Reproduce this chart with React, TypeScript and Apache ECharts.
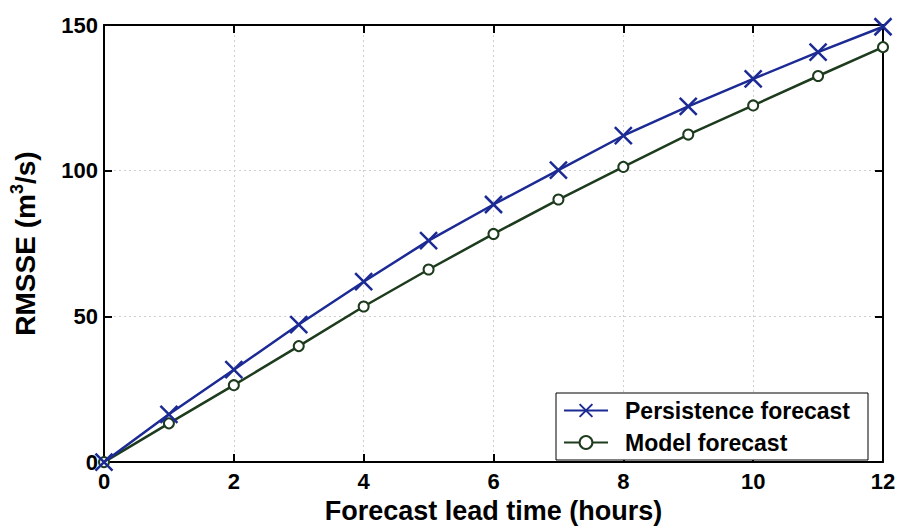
import React, { useEffect, useRef } from "react";
import * as echarts from "echarts";

const hours = [0, 1, 2, 3, 4, 5, 6, 7, 8, 9, 10, 11, 12];
const persistence = [0, 16.4, 31.7, 47.2, 61.9, 76.0, 88.4, 100.2, 112.0, 122.1, 131.5, 140.7, 149.4];
const model = [0, 13.3, 26.4, 39.8, 53.4, 66.1, 78.3, 90.1, 101.3, 112.4, 122.4, 132.5, 142.4];
const seriesNames = ["Persistence forecast", "Model forecast"];
const xLabel = "Forecast lead time (hours)";

const BLUE = "#1c2a94";
const GREEN = "#1d3b1d";
const FONT = "'Liberation Sans', Arial, sans-serif";

export default function App() {
  const ref = useRef<HTMLDivElement>(null);
  useEffect(() => {
    if (!ref.current) return;
    const chart = echarts.init(ref.current, undefined, { renderer: "svg" });
    const tickLabel = { fontFamily: FONT, fontWeight: "bold" as const, fontSize: 22, color: "#000" };
    const axisBase = {
      type: "value" as const,
      axisLine: { show: true, onZero: false, lineStyle: { color: "#000", width: 2 } },
      axisTick: { show: true, inside: true, length: 8, lineStyle: { color: "#000", width: 2 } },
    };
    chart.setOption({
      animation: false,
      backgroundColor: "#fff",
      grid: { left: 103, right: 18, top: 25, bottom: 60, containLabel: false },
      legend: {
        orient: "vertical",
        left: 556,
        top: 393,
        data: seriesNames,
        backgroundColor: "#fff",
        borderColor: "#000",
        borderWidth: 1,
        borderRadius: 0,
        padding: [6, 18, 6, 7],
        itemGap: 9,
        itemWidth: 44,
        itemHeight: 16,
        textStyle: { fontFamily: FONT, fontWeight: "bold", fontSize: 23, color: "#000", padding: [0, 0, 0, 12] },
      },
      xAxis: [
        {
          ...axisBase,
          min: 0,
          max: 12,
          interval: 2,
          position: "bottom",
          name: xLabel,
          nameLocation: "middle",
          nameGap: 27,
          nameTextStyle: { fontFamily: FONT, fontWeight: "bold", fontSize: 27, color: "#000", verticalAlign: "top" },
          axisLabel: { ...tickLabel, margin: 8 },
          splitLine: { show: true, lineStyle: { color: "#cfcfcf", type: [2, 3], width: 1 } },
        },
        {
          ...axisBase,
          min: 0,
          max: 12,
          interval: 2,
          position: "top",
          axisLabel: { show: false },
          splitLine: { show: false },
        },
      ],
      yAxis: [
        {
          ...axisBase,
          min: 0,
          max: 150,
          interval: 50,
          position: "left",
          name: "{a|RMSSE (m}{b|3}{a|/s)}",
          nameLocation: "middle",
          nameGap: 62,
          nameTextStyle: {
            rich: {
              a: { fontFamily: FONT, fontWeight: "bold", fontSize: 28, color: "#000" },
              b: { fontFamily: FONT, fontWeight: "bold", fontSize: 18, color: "#000", padding: [0, 0, 16, 0] },
            },
          },
          axisLabel: { ...tickLabel, margin: 6 },
          splitLine: { show: true, lineStyle: { color: "#cfcfcf", type: [2, 3], width: 1 } },
        },
        {
          ...axisBase,
          min: 0,
          max: 150,
          interval: 50,
          position: "right",
          axisLabel: { show: false },
          splitLine: { show: false },
        },
      ],
      series: [
        {
          name: seriesNames[0],
          type: "line",
          data: hours.map((h, i) => [h, persistence[i]]),
          symbol: "path://M0,0L10,10M0,10L10,0",
          symbolSize: 17,
          lineStyle: { color: BLUE, width: 2.5 },
          itemStyle: { color: BLUE, borderColor: BLUE, borderWidth: 2.5 },
          z: 3,
        },
        {
          name: seriesNames[1],
          type: "line",
          data: hours.map((h, i) => [h, model[i]]),
          symbol: "emptyCircle",
          symbolSize: 10,
          lineStyle: { color: GREEN, width: 2.5 },
          itemStyle: { color: GREEN, borderColor: GREEN, borderWidth: 2.5 },
          z: 2,
        },
      ],
    });
    return () => chart.dispose();
  }, []);
  return <div ref={ref} style={{ width: 901, height: 529, position: "absolute", left: 0, top: 0 }} />;
}
